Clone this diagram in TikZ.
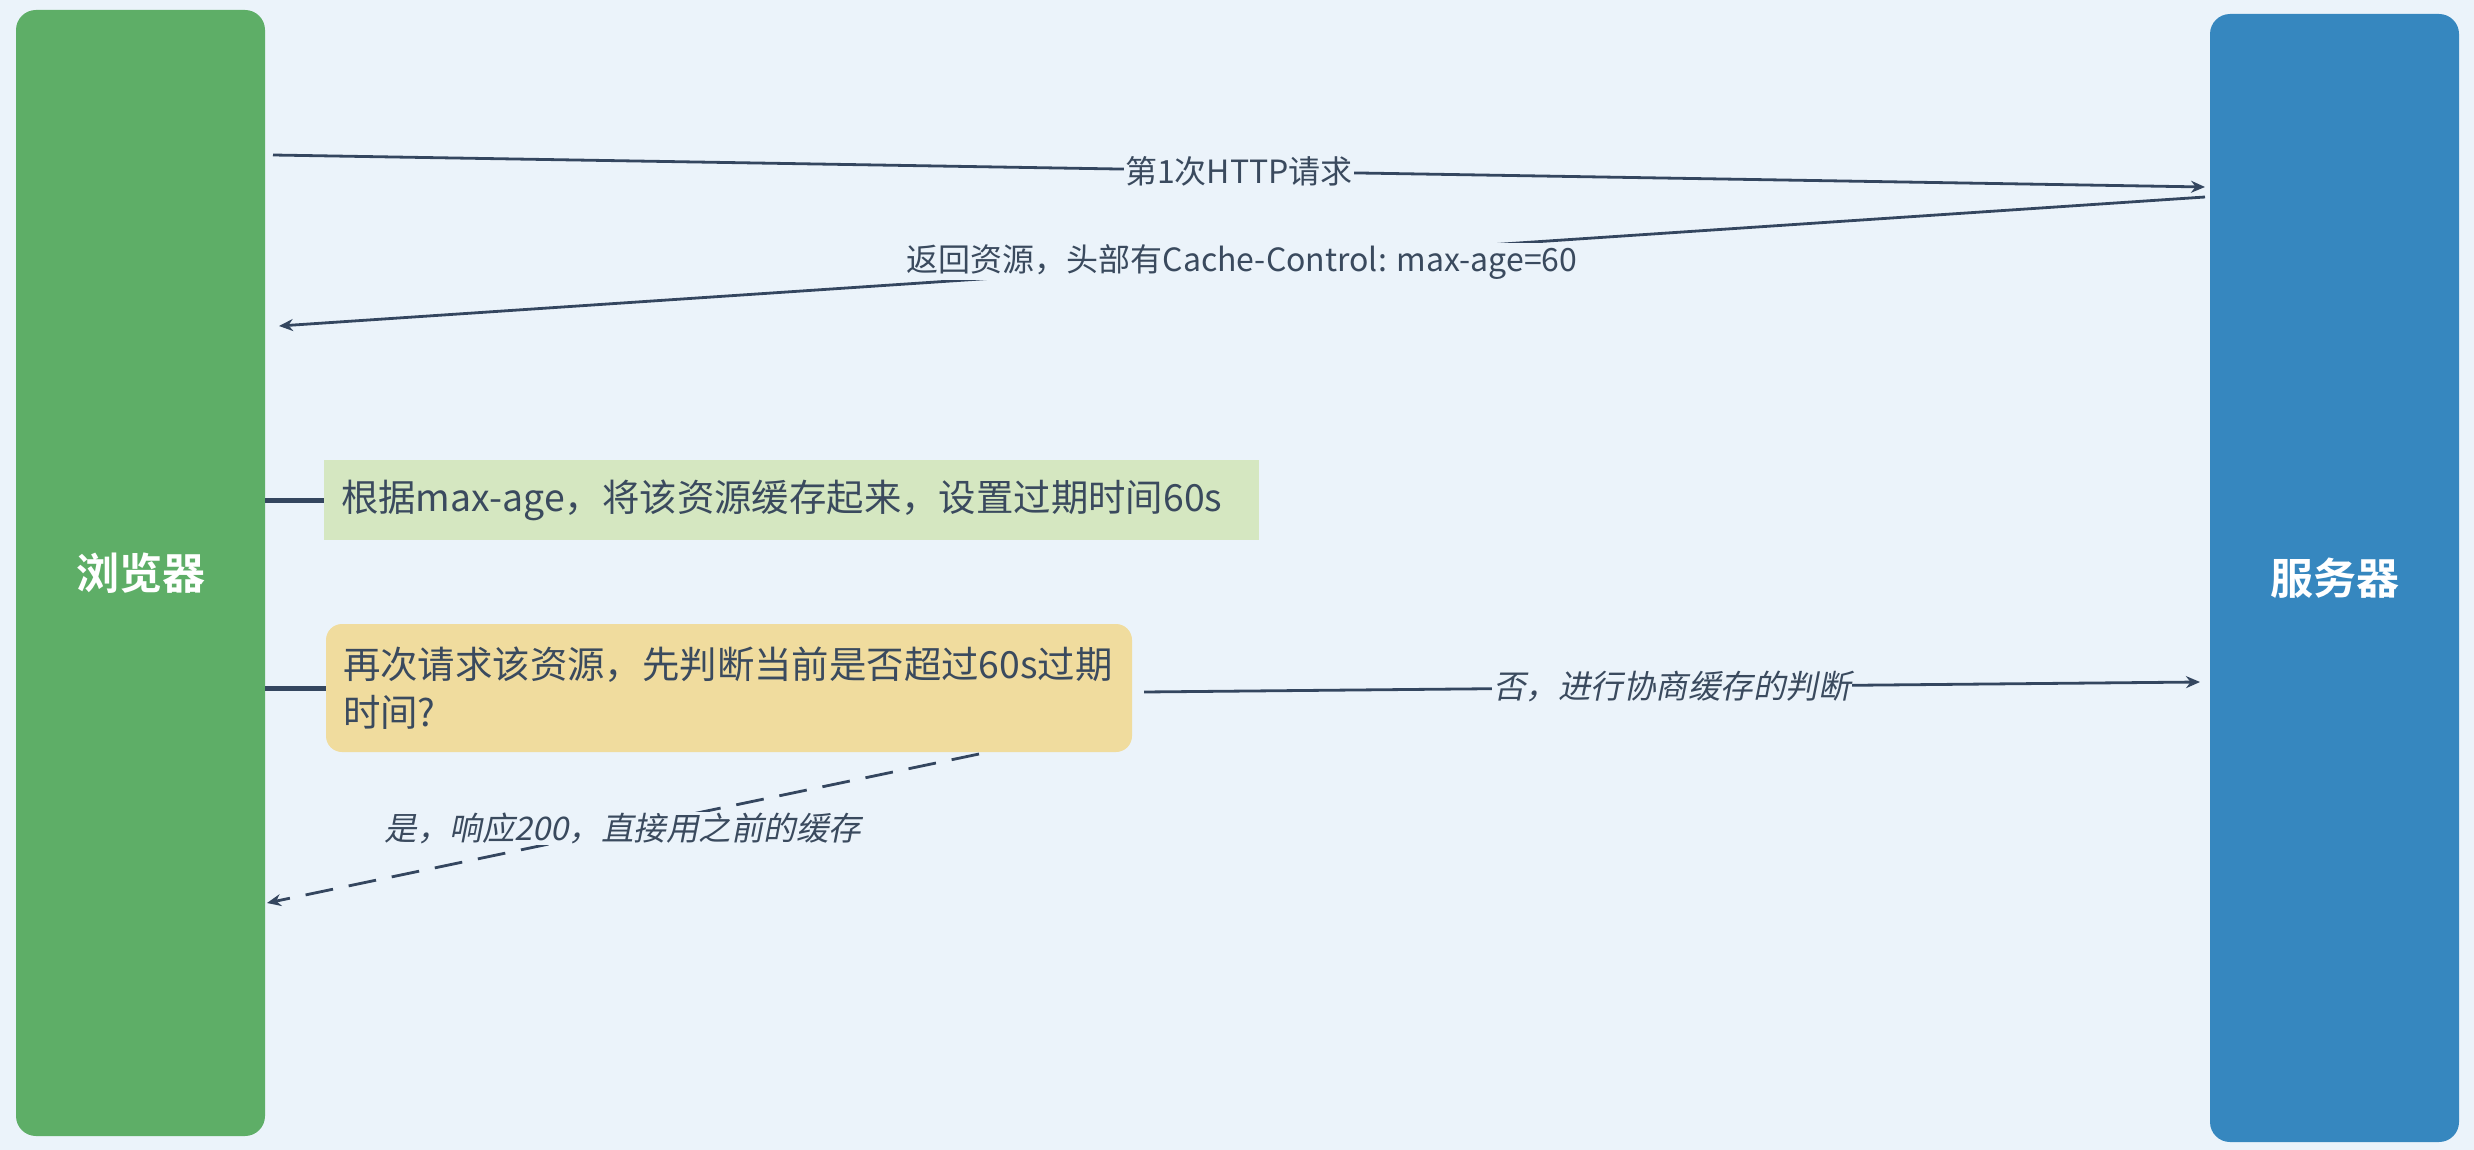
\documentclass[tikz,border=0pt]{standalone}
\usepackage{fontspec}
\setmainfont{Noto Sans CJK SC}[ItalicFont={Noto Sans CJK SC},ItalicFeatures={FakeSlant=0.2},BoldFont={Noto Sans CJK SC Bold}]
\usetikzlibrary{arrows.meta,calc}
\definecolor{bgc}{HTML}{EBF3FA}
\definecolor{greenbox}{HTML}{5EAE67}
\definecolor{bluebox}{HTML}{3687BF}
\definecolor{notegreen}{HTML}{D5E7C1}
\definecolor{noteyellow}{HTML}{F0DC9E}
\definecolor{linec}{HTML}{34465F}
\definecolor{textc}{HTML}{3A4A5E}
\tikzset{
  actor/.style={draw=none,rounded corners=20pt,minimum width=249pt,text=white,font=\fontsize{43}{50}\selectfont\bfseries,inner sep=0pt},
  msg/.style={draw=linec,line width=2.8pt,-{Stealth[length=14pt,width=12pt]}},
  lbl/.style={fill=bgc,text=textc,font=\fontsize{32}{36}\selectfont,inner sep=1pt},
  ilbl/.style={lbl,font=\fontsize{32.5}{36}\selectfont\itshape},
  notebox/.style={text=textc,font=\fontsize{37.4}{48}\selectfont,align=left,inner xsep=17pt,inner ysep=0pt},
  stub/.style={draw=linec,line width=5pt}
}
\begin{document}
\begin{tikzpicture}[x=1pt,y=-1pt]
\fill[bgc] (0,0) rectangle (2474,1150);
\useasboundingbox (0,0) rectangle (2474,1150);
\node[actor,fill=greenbox,minimum height=1126pt] (b) at (140.5,573) {浏览器};
\node[actor,fill=bluebox,minimum height=1128pt] (s) at (2334.5,578) {服务器};
\node[notebox,fill=notegreen,minimum height=80pt,text width=901pt] (n1) at (791.5,500) {根据max-age，将该资源缓存起来，设置过期时间60s};
\node[notebox,fill=noteyellow,rounded corners=16pt,minimum height=128pt,text width=772pt] (n2) at (729,688) {再次请求该资源，先判断当前是否超过60s过期\\时间?};
\coordinate (a1s) at (273,155);
\coordinate (a1e) at (2205,187);
\coordinate (a2s) at (2205,197);
\coordinate (a2e) at (279,326);
\coordinate (a3s) at (1144,692);
\coordinate (a3e) at (2200,682);
\coordinate (a4s) at (979,754);
\coordinate (a4e) at (267,903);
\draw[stub] (b.east |- n1.west) -- (n1.west);
\draw[stub] (b.east |- 0,688) -- (n2.west);
\draw[msg] (a1s) -- node[lbl] {第1次HTTP请求} (a1e);
\draw[msg] (a2s) -- node[lbl] {返回资源，头部有Cache-Control: max-age=60} (a2e);
\draw[msg] (a3s) -- node[ilbl] {否，进行协商缓存的判断} (a3e);
\draw[msg,dash pattern=on 28pt off 16pt] (a4s) -- node[ilbl] {是，响应200，直接用之前的缓存} (a4e);
\end{tikzpicture}
\end{document}
